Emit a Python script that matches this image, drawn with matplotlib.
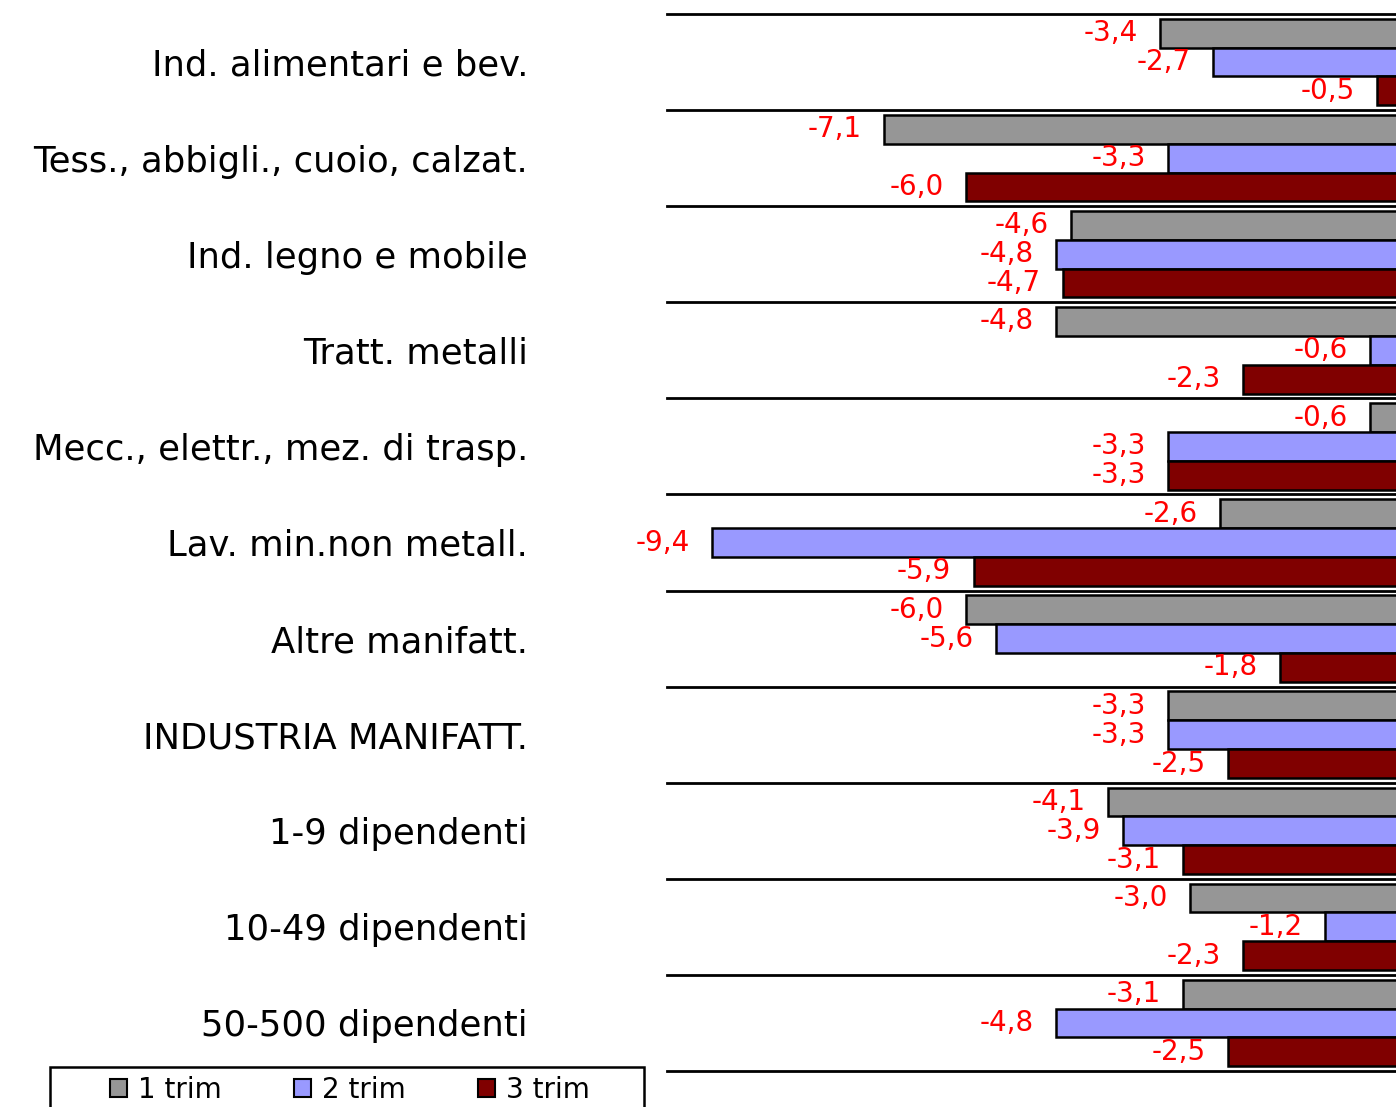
import numpy as np
import matplotlib.pyplot as plt
from matplotlib.patches import Rectangle, Patch

plt.rcParams['font.family'] = ['DejaVu Sans']

categories = ['Ind. alimentari e bev.', 'Tess., abbigli., cuoio, calzat.',
              'Ind. legno e mobile', 'Tratt. metalli',
              'Mecc., elettr., mez. di trasp.', 'Lav. min.non metall.',
              'Altre manifatt.', 'INDUSTRIA MANIFATT.', '1-9 dipendenti',
              '10-49 dipendenti', '50-500 dipendenti']
series_names = ['1 trim', '2 trim', '3 trim']
trim1 = [-3.4, -7.1, -4.6, -4.8, -0.6, -2.6, -6.0, -3.3, -4.1, -3.0, -3.1]
trim2 = [-2.7, -3.3, -4.8, -0.6, -3.3, -9.4, -5.6, -3.3, -3.9, -1.2, -4.8]
trim3 = [-0.5, -6.0, -4.7, -2.3, -3.3, -5.9, -1.8, -2.5, -3.1, -2.3, -2.5]

colors = ['#969696', '#9999FF', '#800000']

fig = plt.figure(figsize=(13.96, 11.07), dpi=100)
ax = fig.add_axes([667 / 1396, 1 - 1071 / 1107, 1 - 667 / 1396, (1071 - 14) / 1107])

y = np.arange(len(categories))
h = 0.3
for i, vals in enumerate([trim1, trim2, trim3]):
    pos = y + (i - 1) * h
    ax.barh(pos, vals, height=h, color=colors[i], edgecolor='black', linewidth=1.8)
    for p, v in zip(pos, vals):
        ax.annotate(f'{v:.1f}'.replace('.', ','), xy=(v, p), xytext=(-16, 0),
                    textcoords='offset points', ha='right', va='center',
                    color='#FF0000', fontsize=20)

for b in np.arange(len(categories) + 1) - 0.5:
    ax.axhline(b, color='black', linewidth=2, clip_on=False)

ax.set_xlim(-10, -0.25)
ax.set_ylim(len(categories) - 0.5, -0.5)
ax.set_xticks([])
ax.set_yticks(y)
ax.set_yticklabels(categories, fontsize=25.5)
ax.tick_params(axis='y', length=0, pad=100)
for s in ax.spines.values():
    s.set_visible(False)

# legend box (cut at the bottom edge)
fig.patches.append(Rectangle((50 / 1396, -0.05), (644 - 50) / 1396, 0.05 + 1 - 1067 / 1107,
                             transform=fig.transFigure, facecolor='white',
                             edgecolor='black', linewidth=1.8, clip_on=False))
handles = [Patch(facecolor=c, edgecolor='black', linewidth=1.5) for c in colors]
fig.legend(handles, series_names, loc='center', bbox_to_anchor=(350 / 1396, 1 - 1090 / 1107),
           ncol=3, frameon=False, fontsize=20, handlelength=0.6, handleheight=0.6,
           handletextpad=0.4, columnspacing=2.6)

fig.savefig('out.png', dpi=100)
